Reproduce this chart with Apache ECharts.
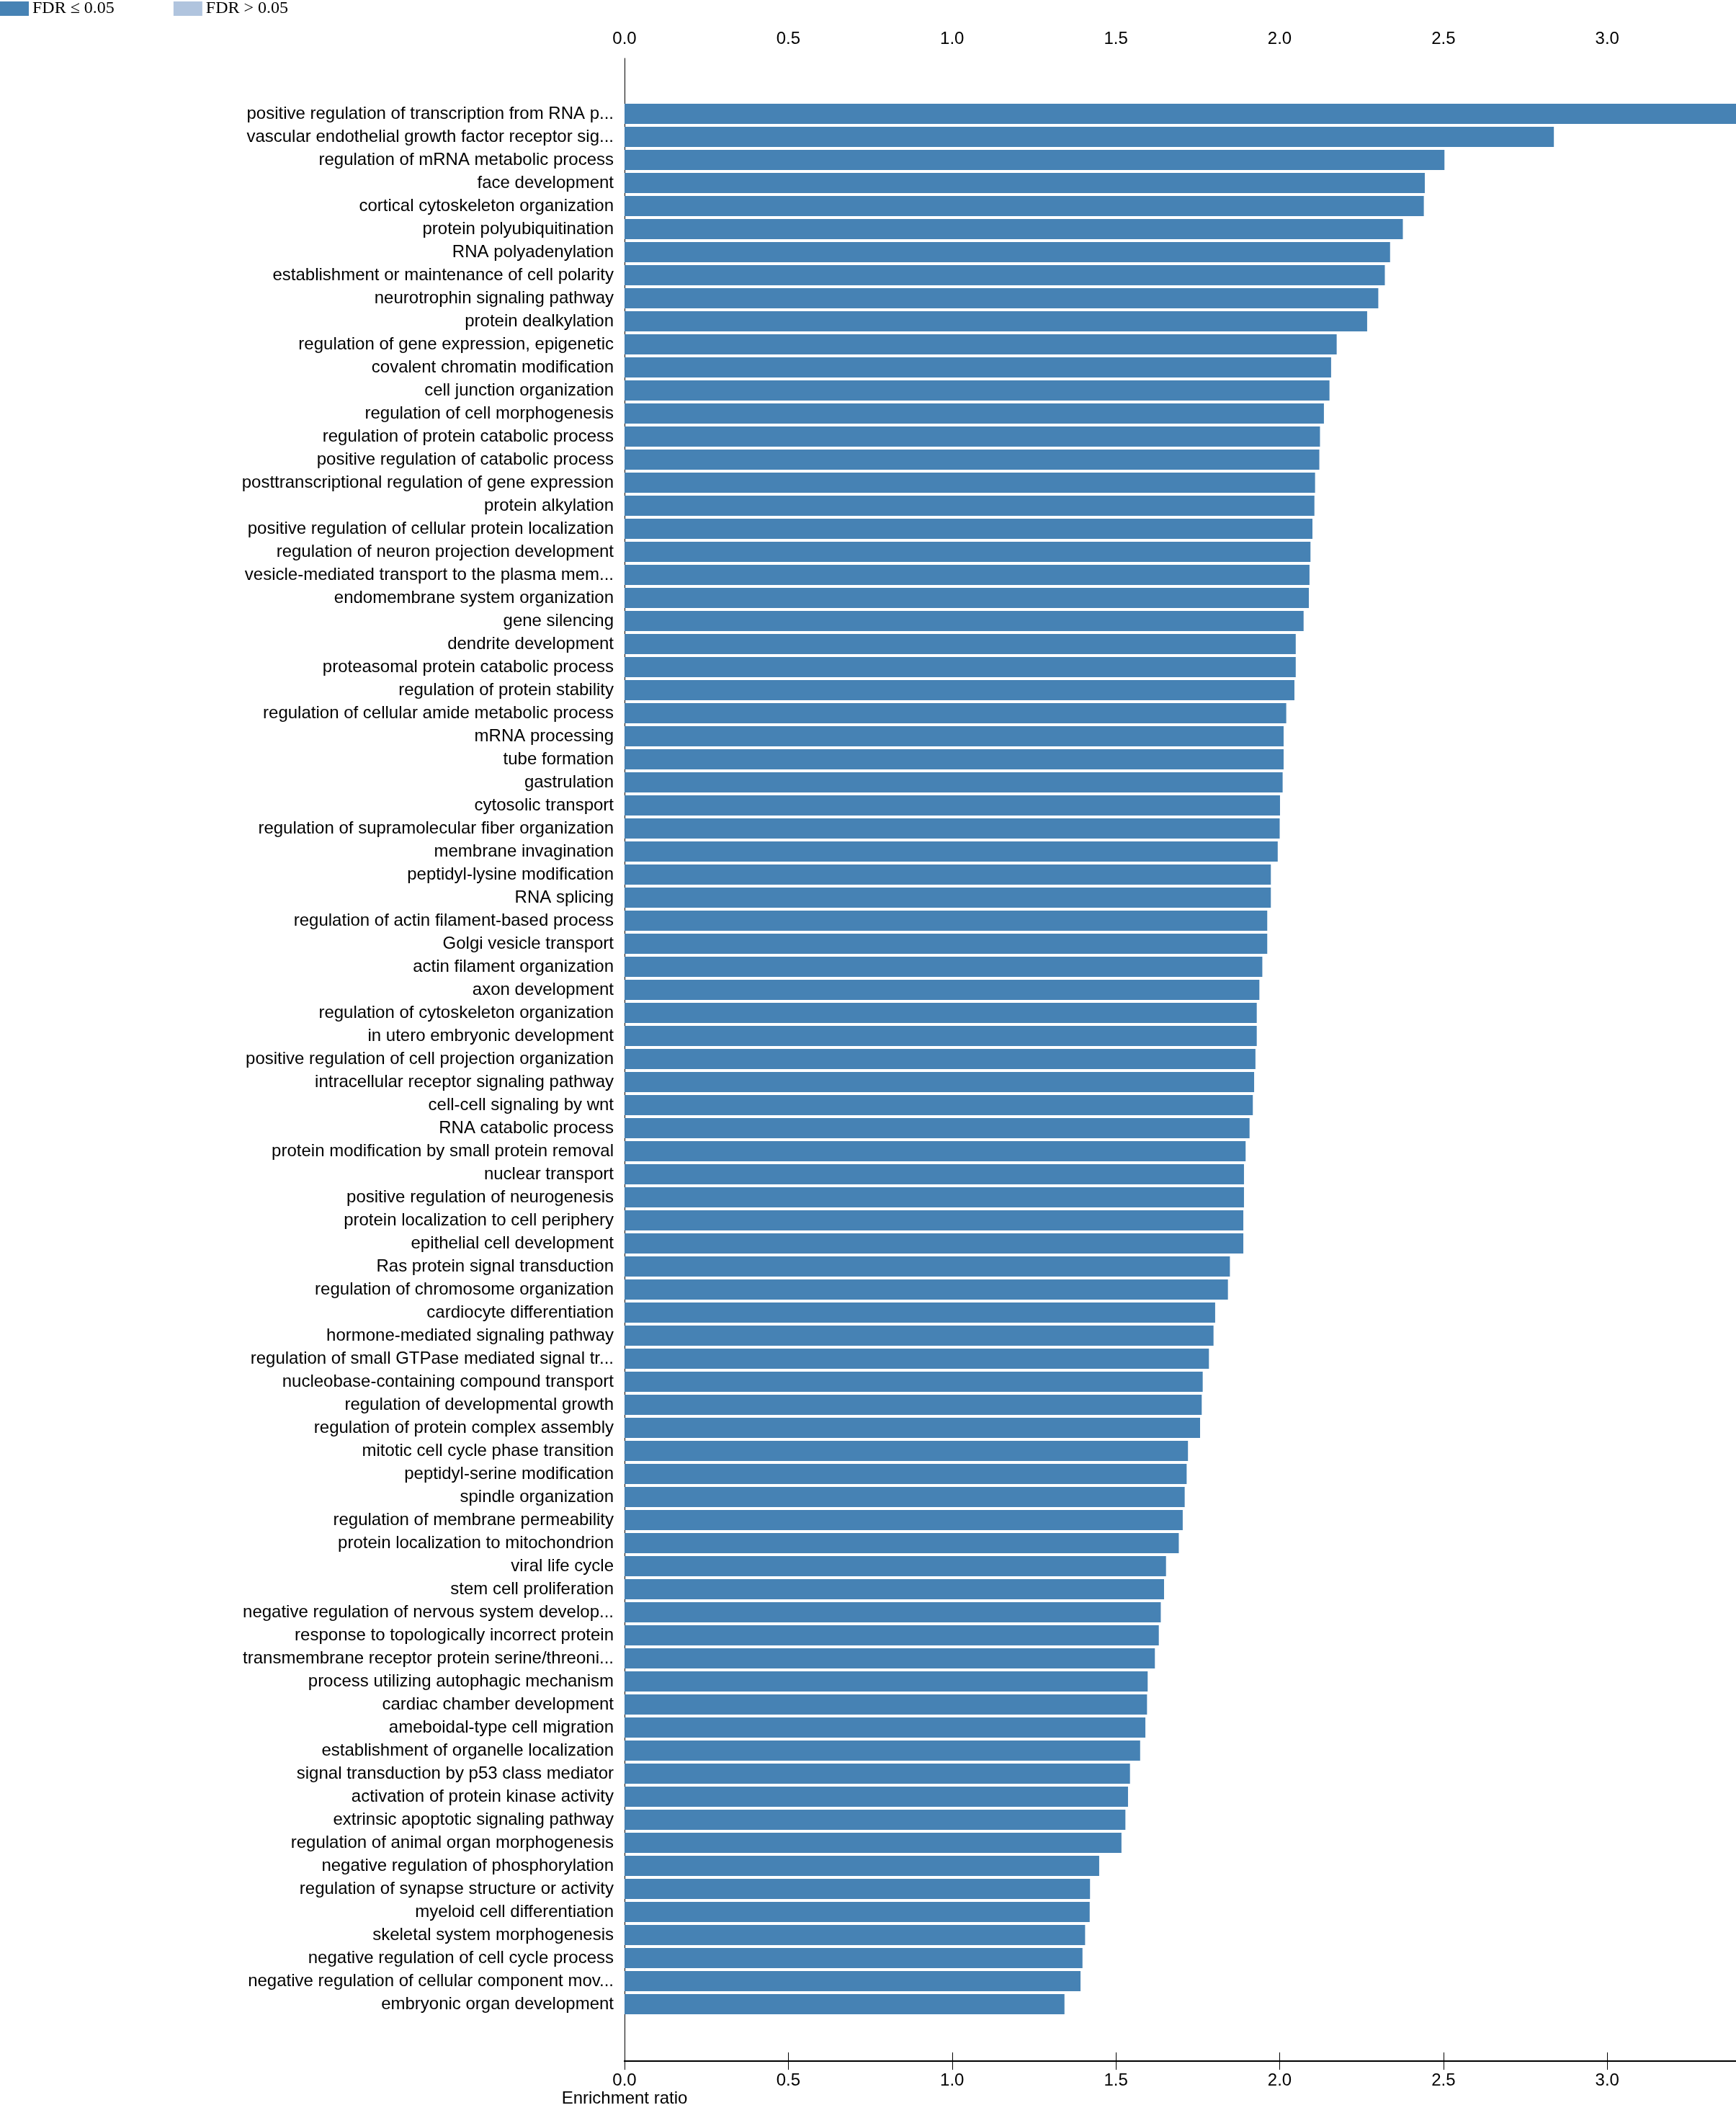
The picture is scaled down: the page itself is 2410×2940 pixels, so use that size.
<!DOCTYPE html>
<html><head><meta charset="utf-8">
<script src="https://cdn.jsdelivr.net/npm/echarts@6/dist/echarts.min.js"></script>
<style>html,body{margin:0;padding:0;background:#fff}#chart{width:2410px;height:2940px}</style>
</head><body><div id="chart"></div>
<script>
const categories = [
"positive regulation of transcription from RNA p...",
"vascular endothelial growth factor receptor sig...",
"regulation of mRNA metabolic process",
"face development",
"cortical cytoskeleton organization",
"protein polyubiquitination",
"RNA polyadenylation",
"establishment or maintenance of cell polarity",
"neurotrophin signaling pathway",
"protein dealkylation",
"regulation of gene expression, epigenetic",
"covalent chromatin modification",
"cell junction organization",
"regulation of cell morphogenesis",
"regulation of protein catabolic process",
"positive regulation of catabolic process",
"posttranscriptional regulation of gene expression",
"protein alkylation",
"positive regulation of cellular protein localization",
"regulation of neuron projection development",
"vesicle-mediated transport to the plasma mem...",
"endomembrane system organization",
"gene silencing",
"dendrite development",
"proteasomal protein catabolic process",
"regulation of protein stability",
"regulation of cellular amide metabolic process",
"mRNA processing",
"tube formation",
"gastrulation",
"cytosolic transport",
"regulation of supramolecular fiber organization",
"membrane invagination",
"peptidyl-lysine modification",
"RNA splicing",
"regulation of actin filament-based process",
"Golgi vesicle transport",
"actin filament organization",
"axon development",
"regulation of cytoskeleton organization",
"in utero embryonic development",
"positive regulation of cell projection organization",
"intracellular receptor signaling pathway",
"cell-cell signaling by wnt",
"RNA catabolic process",
"protein modification by small protein removal",
"nuclear transport",
"positive regulation of neurogenesis",
"protein localization to cell periphery",
"epithelial cell development",
"Ras protein signal transduction",
"regulation of chromosome organization",
"cardiocyte differentiation",
"hormone-mediated signaling pathway",
"regulation of small GTPase mediated signal tr...",
"nucleobase-containing compound transport",
"regulation of developmental growth",
"regulation of protein complex assembly",
"mitotic cell cycle phase transition",
"peptidyl-serine modification",
"spindle organization",
"regulation of membrane permeability",
"protein localization to mitochondrion",
"viral life cycle",
"stem cell proliferation",
"negative regulation of nervous system develop...",
"response to topologically incorrect protein",
"transmembrane receptor protein serine/threoni...",
"process utilizing autophagic mechanism",
"cardiac chamber development",
"ameboidal-type cell migration",
"establishment of organelle localization",
"signal transduction by p53 class mediator",
"activation of protein kinase activity",
"extrinsic apoptotic signaling pathway",
"regulation of animal organ morphogenesis",
"negative regulation of phosphorylation",
"regulation of synapse structure or activity",
"myeloid cell differentiation",
"skeletal system morphogenesis",
"negative regulation of cell cycle process",
"negative regulation of cellular component mov...",
"embryonic organ development"
];
const enrichment = [
3.393, 2.837, 2.503, 2.443, 2.440, 2.376, 2.337, 2.321, 2.301, 2.267,
2.174, 2.157, 2.152, 2.135, 2.123, 2.121, 2.108, 2.106, 2.100, 2.094,
2.091, 2.089, 2.073, 2.049, 2.049, 2.045, 2.020, 2.012, 2.012, 2.009,
2.001, 2.000, 1.994, 1.973, 1.973, 1.962, 1.962, 1.947, 1.938, 1.930,
1.930, 1.926, 1.922, 1.918, 1.908, 1.896, 1.891, 1.891, 1.889, 1.889,
1.848, 1.842, 1.803, 1.798, 1.784, 1.765, 1.762, 1.757, 1.720, 1.716,
1.710, 1.704, 1.692, 1.653, 1.647, 1.637, 1.631, 1.619, 1.597, 1.595,
1.590, 1.574, 1.543, 1.537, 1.529, 1.517, 1.449, 1.421, 1.420, 1.406,
1.398, 1.392, 1.343
];
const tickLabels = ["0.0", "0.5", "1.0", "1.5", "2.0", "2.5", "3.0"];
const legendNames = ["FDR \u2264 0.05", "FDR > 0.05"];
const axisTitle = "Enrichment ratio";

const xMax = Math.max.apply(null, enrichment);
const SANS = "'Liberation Sans', Arial, Helvetica, sans-serif";
const SERIF = "'Liberation Serif', 'Times New Roman', serif";

function tickFmt(v) {
  const idx = Math.round(v / 0.5);
  if (Math.abs(idx * 0.5 - v) > 1e-6 || idx >= tickLabels.length) return '';
  return tickLabels[idx];
}

function frameXAxis(pos) {
  return {
    type: 'value', gridIndex: 0, position: pos, min: 0, max: xMax, interval: 0.5,
    axisLine: { show: true, lineStyle: { color: '#000', width: 2 } },
    axisTick: { show: true, length: 12, lineStyle: { color: '#000', width: 1 } },
    axisLabel: { show: true, color: '#000', fontSize: 24, fontFamily: SANS, margin: 15,
                 showMaxLabel: false, formatter: tickFmt },
    splitLine: { show: false }
  };
}

const chart = echarts.init(document.getElementById('chart'), null, { renderer: 'canvas' });
chart.setOption({
  animation: false,
  backgroundColor: '#fff',
  title: {
    text: axisTitle, left: 867, top: 2901, textAlign: 'center', padding: 0,
    textStyle: { fontFamily: SANS, fontSize: 24, fontWeight: 'normal', color: '#000' }
  },
  legend: {
    data: legendNames, left: 0, top: 0, padding: 0, icon: 'rect',
    itemWidth: 40, itemHeight: 20, itemGap: 82, selectedMode: false,
    textStyle: { fontFamily: SERIF, fontSize: 24, color: '#000' }
  },
  grid: [
    { left: 867, right: 0, top: 81, height: 2780, containLabel: false },
    { left: 867, right: 0, top: 142, height: 2656, containLabel: false }
  ],
  xAxis: [
    frameXAxis('top'),
    frameXAxis('bottom'),
    { type: 'value', gridIndex: 1, min: 0, max: xMax, show: false, splitLine: { show: false } }
  ],
  yAxis: [
    { type: 'value', gridIndex: 0, min: 0, max: 1,
      axisLine: { show: true, lineStyle: { color: '#000', width: 1 } },
      axisTick: { show: false }, axisLabel: { show: false }, splitLine: { show: false } },
    { type: 'category', gridIndex: 1, data: categories, inverse: true,
      axisLine: { show: false }, axisTick: { show: false },
      axisLabel: { interval: 0, color: '#000', fontSize: 24, fontFamily: SANS, margin: 15,
                   padding: [4, 0, 0, 0] },
      splitLine: { show: false } }
  ],
  series: [
    { name: legendNames[0], type: 'bar', xAxisIndex: 2, yAxisIndex: 1, stack: 'fdr',
      data: enrichment, barCategoryGap: '12.5%', itemStyle: { color: '#4682B4' } },
    { name: legendNames[1], type: 'bar', xAxisIndex: 2, yAxisIndex: 1, stack: 'fdr',
      data: [], itemStyle: { color: '#B0C4DE' } }
  ]
});
</script>
</body></html>
